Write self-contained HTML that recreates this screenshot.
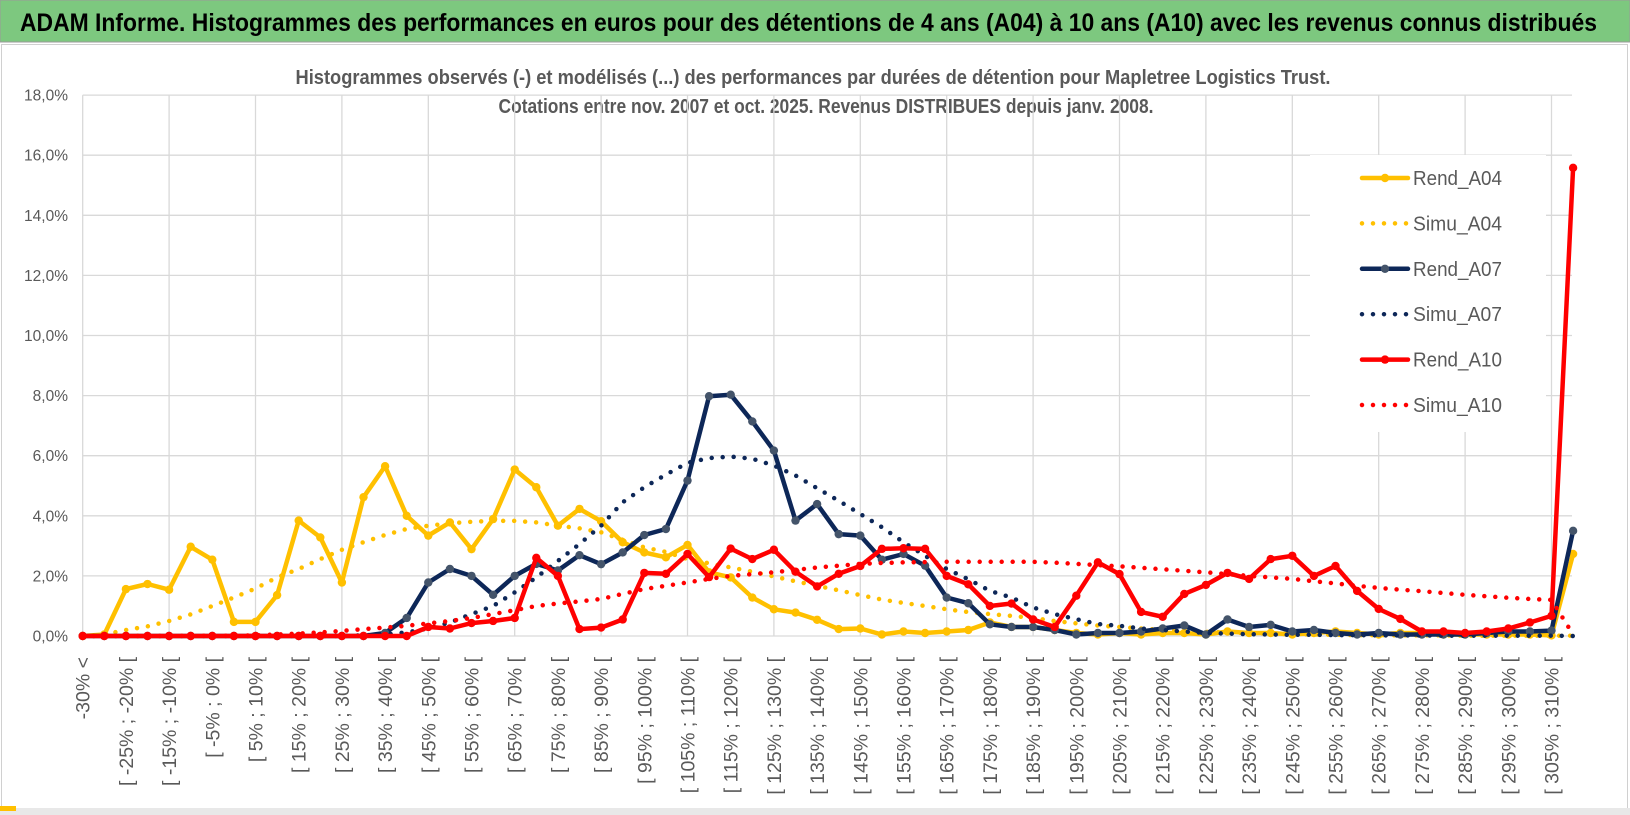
<!DOCTYPE html>
<html><head><meta charset="utf-8"><style>
html,body{margin:0;padding:0;background:#fff;}
svg{display:block;font-family:"Liberation Sans",sans-serif;}
</style></head><body>
<svg id="chart" width="1630" height="815" viewBox="0 0 1630 815" xmlns="http://www.w3.org/2000/svg">
<rect x="0" y="0" width="1630" height="42" fill="#7DC87F" stroke="#9a9a9a" stroke-width="1"/>
<text x="20" y="31" font-size="25" font-weight="bold" fill="#000" textLength="1577" lengthAdjust="spacingAndGlyphs">ADAM Informe. Histogrammes des performances en euros pour des détentions de 4 ans (A04) à 10 ans (A10) avec les revenus connus distribués</text>
<rect x="1.5" y="44.5" width="1626" height="764" fill="#fff" stroke="#d0d0d0"/>
<rect x="0" y="808" width="1630" height="7" fill="#e8e8e8"/>
<rect x="0" y="806" width="16" height="5" fill="#FFC000"/>
<text x="813" y="84" font-size="20" font-weight="bold" fill="#595959" text-anchor="middle" textLength="1035" lengthAdjust="spacingAndGlyphs">Histogrammes observés (-) et modélisés (...) des performances par durées de détention pour Mapletree Logistics Trust.</text>
<text x="826" y="113" font-size="20" font-weight="bold" fill="#595959" text-anchor="middle" textLength="655" lengthAdjust="spacingAndGlyphs">Cotations entre nov. 2007 et oct. 2025. Revenus DISTRIBUES depuis janv. 2008.</text>
<g id="grid"></g>
<g id="legend-bg-layer"></g>
<g id="series"></g>
<g id="legend"></g>
<g id="axes"></g>
</svg>
<script>
const rendA04=[0,0.05,1.56,1.73,1.54,2.97,2.54,0.47,0.47,1.36,3.84,3.28,1.78,4.62,5.65,4.0,3.34,3.78,2.89,3.89,5.54,4.95,3.67,4.23,3.82,3.12,2.78,2.62,3.03,2.12,1.95,1.28,0.89,0.78,0.54,0.23,0.25,0.05,0.15,0.1,0.15,0.2,0.45,0.3,0.3,0.2,0.1,0.05,0.1,0.05,0.1,0.1,0.05,0.15,0.1,0.1,0.05,0.1,0.15,0.1,0.05,0.1,0.1,0.05,0.05,0.05,0.05,0.05,0.02,2.73];
const simuA04=[0,0.05,0.2,0.32,0.5,0.72,1.0,1.28,1.58,1.95,2.23,2.56,2.87,3.12,3.36,3.56,3.67,3.75,3.8,3.83,3.83,3.78,3.67,3.58,3.45,3.2,2.95,2.8,2.56,2.42,2.28,2.14,1.98,1.82,1.67,1.52,1.36,1.21,1.1,1.0,0.89,0.8,0.73,0.67,0.6,0.5,0.42,0.35,0.3,0.25,0.2,0.17,0.14,0.12,0.1,0.08,0.06,0.05,0.04,0.03,0.03,0.02,0.02,0.02,0.01,0.01,0.01,0.01,0.01,0.01];
const rendA07=[0,0,0,0,0,0,0,0,0,0,0,0,0,0,0.1,0.6,1.78,2.23,2.0,1.37,2.0,2.4,2.18,2.69,2.39,2.78,3.36,3.56,5.17,7.98,8.03,7.14,6.17,3.84,4.39,3.39,3.34,2.54,2.73,2.34,1.28,1.09,0.39,0.3,0.3,0.2,0.05,0.1,0.1,0.15,0.25,0.35,0.05,0.55,0.3,0.37,0.15,0.2,0.1,0.05,0.1,0.05,0.05,0.05,0.05,0.1,0.15,0.15,0.18,3.5];
const simuA07=[0,0,0,0,0,0,0,0,0,0,0,0,0,0.02,0.05,0.12,0.25,0.45,0.73,1.0,1.45,1.95,2.5,3.06,3.67,4.45,4.95,5.37,5.76,5.92,5.97,5.9,5.67,5.34,4.92,4.5,4.06,3.62,3.12,2.67,2.23,1.89,1.5,1.28,0.95,0.73,0.56,0.4,0.34,0.25,0.2,0.15,0.1,0.08,0.06,0.05,0.04,0.04,0.03,0.03,0.02,0.02,0.02,0.01,0.01,0.01,0.01,0.01,0.01,0.0];
const rendA10=[0,0,0,0,0,0,0,0,0,0,0,0,0,0,0,0,0.3,0.25,0.43,0.5,0.6,2.6,2.0,0.23,0.28,0.55,2.1,2.07,2.73,1.96,2.91,2.56,2.87,2.14,1.65,2.07,2.33,2.9,2.92,2.9,2.0,1.72,1.0,1.08,0.55,0.3,1.34,2.45,2.06,0.8,0.64,1.4,1.7,2.1,1.9,2.56,2.67,2.0,2.33,1.5,0.9,0.57,0.15,0.15,0.1,0.15,0.25,0.45,0.67,15.58];
const simuA10=[0,0,0,0,0,0.01,0.01,0.01,0.02,0.05,0.08,0.12,0.17,0.23,0.28,0.34,0.42,0.5,0.6,0.73,0.86,1.0,1.08,1.15,1.23,1.4,1.56,1.67,1.78,1.9,2.0,2.06,2.12,2.2,2.28,2.34,2.4,2.43,2.45,2.46,2.47,2.47,2.47,2.47,2.47,2.44,2.4,2.36,2.32,2.27,2.22,2.17,2.12,2.06,2.0,1.95,1.9,1.82,1.75,1.67,1.6,1.54,1.49,1.43,1.37,1.32,1.27,1.23,1.2,0.05];
const yTicks=[0,2,4,6,8,10,12,14,16,18];
const catLow=[];for(let k=-30;k<=310;k+=5)catLow.push(k);

const NS="http://www.w3.org/2000/svg";
const N=70,X0=82.7,DX=21.6,Y0=636,PY=30.05,XR=1572;
const xs=i=>X0+i*DX, ys=v=>Y0-v*PY;
function mk(tag,attrs,parent){const e=document.createElementNS(NS,tag);for(const k in attrs)e.setAttribute(k,attrs[k]);parent.appendChild(e);return e;}
const grid=document.getElementById('grid'),axes=document.getElementById('axes'),ser=document.getElementById('series'),leg=document.getElementById('legend'),lbg=document.getElementById('legend-bg-layer');
function catLabel(i){if(i===0)return '-30% <';if(i===N-1)return '310% <';const a=catLow[i-1];return '[ '+a+'% ; '+(a+5)+'% [';}
yTicks.forEach(t=>{
  const l=mk('line',{x1:X0,x2:XR,y1:ys(t),y2:ys(t),stroke:'#d9d9d9','stroke-width':1.3},grid);
  
  
  const tx=mk('text',{x:68,y:ys(t)+5.5,'font-size':15.5,fill:'#595959','text-anchor':'end'},axes);
  tx.textContent=t.toFixed(1).replace('.',',')+'%';
  
  
});
for(let i=0;i<N;i+=4){
  const l=mk('line',{x1:xs(i),x2:xs(i),y1:ys(18),y2:Y0,stroke:'#d9d9d9','stroke-width':1.3},grid);
  
  
}
for(let i=0;i<N;i+=2){
  const x=xs(i)+7,y=657;
  const tx=mk('text',{x:x,y:y,'font-size':19.5,fill:'#595959','text-anchor':'end',transform:'rotate(-90 '+x+' '+y+')'},axes);
  tx.textContent=catLabel(i);
  
  
}
const lb=mk('rect',{x:1310,y:155,width:236,height:277,fill:'#fff'},lbg);


const series=[
 {n:'Rend_A04',d:rendA04,c:'#FFC000',m:'#FFC000',dot:false},
 {n:'Simu_A04',d:simuA04,c:'#FFC000',dot:true},
 {n:'Rend_A07',d:rendA07,c:'#0D2758',m:'#44546A',dot:false},
 {n:'Simu_A07',d:simuA07,c:'#0D2758',dot:true},
 {n:'Rend_A10',d:rendA10,c:'#FF0000',m:'#FF0000',dot:false},
 {n:'Simu_A10',d:simuA10,c:'#FF0000',dot:true}];
series.forEach((s,si)=>{
  const pts=s.d.map((v,i)=>xs(i).toFixed(1)+','+ys(v).toFixed(1)).join(' ');
  const attrs={points:pts,fill:'none',stroke:s.c,'stroke-linejoin':'round','stroke-linecap':'round','stroke-width':4.5};
  if(s.dot){attrs['stroke-dasharray']='0 11';}
  const pl=mk('polyline',attrs,ser);
  
  
  if(!s.dot){s.d.forEach((v,i)=>{
    const c=mk('circle',{cx:xs(i),cy:ys(v),r:4.2,fill:s.m},ser);
    
    
  });}
  const ly=185+si*45.4;
  const g=mk('g',{},leg);
  
  
  const la={x1:1362,x2:1408,y1:ly-7,y2:ly-7,stroke:s.c,'stroke-width':4.5,'stroke-linecap':'round'};
  if(s.dot)la['stroke-dasharray']='0 11';
  mk('line',la,g);
  if(!s.dot)mk('circle',{cx:1385,cy:ly-7,r:4.2,fill:s.m},g);
  const t=mk('text',{x:1413,y:ly,'font-size':20,fill:'#595959',textLength:89,lengthAdjust:'spacingAndGlyphs'},g);
  t.textContent=s.n;
});
</script>
</body></html>
